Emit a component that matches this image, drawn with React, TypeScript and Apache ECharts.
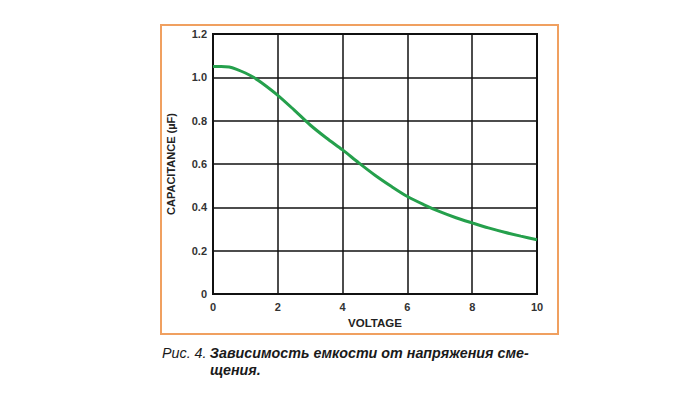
import React, { useEffect, useRef } from "react";
import * as echarts from "echarts";

const voltage = [0, 0.25, 0.5, 0.75, 1, 1.25, 1.5, 2, 2.5, 3, 3.5, 4, 4.5, 5, 5.5, 6, 6.5, 7, 7.5, 8, 8.5, 9, 9.5, 10];
const capacitance = [1.05, 1.05, 1.048, 1.036, 1.02, 1.0, 0.975, 0.917, 0.85, 0.78, 0.72, 0.665, 0.605, 0.548, 0.497, 0.45, 0.413, 0.38, 0.352, 0.328, 0.305, 0.285, 0.267, 0.25];
const xTitle = "VOLTAGE";
const yTitle = "CAPACITANCE (µF)";
const captionLabel = "Рис. 4.";
const captionLine1 = "Зависимость емкости от напряжения сме-";
const captionLine2 = "щения.";

export default function App() {
  const ref = useRef<HTMLDivElement>(null);
  useEffect(() => {
    if (!ref.current) return;
    const chart = echarts.init(ref.current, null, { renderer: "svg" });
    const font = "'Liberation Sans', Arial, sans-serif";
    chart.setOption({
      animation: false,
      backgroundColor: "#ffffff",
      grid: {
        left: 213,
        top: 34,
        width: 324,
        height: 260,
        show: true,
        borderColor: "#111",
        borderWidth: 2,
        backgroundColor: "transparent",
      },
      xAxis: {
        type: "value",
        min: 0,
        max: 10,
        interval: 2,
        name: xTitle,
        nameLocation: "middle",
        nameGap: 23,
        nameTextStyle: { fontFamily: font, fontWeight: "bold", fontSize: 11.5, color: "#222" },
        axisLine: { show: true, lineStyle: { color: "#111", width: 2 } },
        axisTick: { show: false },
        axisLabel: { fontFamily: font, fontWeight: "bold", fontSize: 11, color: "#333", margin: 7 },
        splitLine: { show: true, lineStyle: { color: "#111", width: 1.5 } },
      },
      yAxis: {
        type: "value",
        min: 0,
        max: 1.2,
        interval: 0.2,
        name: yTitle,
        nameLocation: "middle",
        nameGap: 37,
        nameTextStyle: { fontFamily: font, fontWeight: "bold", fontSize: 11, color: "#222" },
        axisLine: { show: true, lineStyle: { color: "#111", width: 2 } },
        axisTick: { show: false },
        axisLabel: {
          fontFamily: font,
          fontWeight: "bold",
          fontSize: 11,
          color: "#333",
          margin: 6,
          formatter: (v: number) => (v === 0 ? "0" : v.toFixed(1)),
        },
        splitLine: { show: true, lineStyle: { color: "#111", width: 1.5 } },
      },
      series: [
        {
          type: "line",
          data: voltage.map((v, i) => [v, capacitance[i]]),
          smooth: 0.3,
          showSymbol: false,
          lineStyle: { color: "#25a04c", width: 3 },
        },
      ],
      graphic: [
        {
          type: "rect",
          shape: { x: 161, y: 25, width: 397, height: 309 },
          style: { fill: "none", stroke: "#f0a060", lineWidth: 2 },
          silent: true,
        },
        {
          type: "text",
          x: 162,
          y: 353,
          style: {
            text: `{a|${captionLabel}} {b|${captionLine1}}`,
            verticalAlign: "middle",
            rich: {
              a: { fontFamily: font, fontStyle: "italic", fontWeight: "normal", fontSize: 14.3, fill: "#1a1a1a" },
              b: { fontFamily: font, fontStyle: "italic", fontWeight: "bold", fontSize: 14.3, fill: "#1a1a1a" },
            },
          },
        },
        {
          type: "text",
          x: 210,
          y: 370,
          style: {
            text: captionLine2,
            verticalAlign: "middle",
            fontFamily: font,
            fontStyle: "italic",
            fontWeight: "bold",
            fontSize: 14.3,
            fill: "#1a1a1a",
          },
        },
      ],
    });
    return () => chart.dispose();
  }, []);
  return (
    <div
      ref={ref}
      style={{ position: "fixed", left: 0, top: 0, width: 699, height: 398 }}
    />
  );
}
